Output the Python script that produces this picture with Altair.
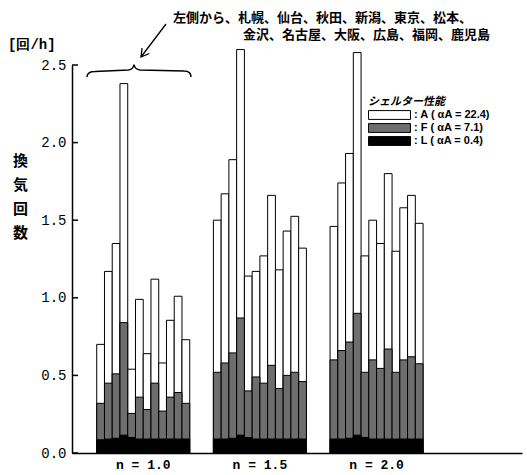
import altair as alt
import pandas as pd

cities = ["札幌", "仙台", "秋田", "新潟", "東京", "松本",
          "金沢", "名古屋", "大阪", "広島", "福岡", "鹿児島"]
groups = ["n = 1.0", "n = 1.5", "n = 2.0"]
series = [": A ( αA = 22.4)", ": F ( αA = 7.1)", ": L ( αA = 0.4)"]
series_colors = ["#ffffff", "#6e6e6e", "#000000"]
yticks = [0.0, 0.5, 1.0, 1.5, 2.0, 2.5]

# 換気回数 [回/h]  (A = total bar, F = stippled part, L = black part)
A_n10 = [0.70, 1.17, 1.35, 2.38, 0.54, 0.99, 0.64, 1.12, 0.58, 0.855, 1.01, 0.73]
F_n10 = [0.32, 0.45, 0.51, 0.84, 0.255, 0.36, 0.28, 0.45, 0.27, 0.36, 0.39, 0.32]
L_n10 = [0.085, 0.09, 0.095, 0.115, 0.10, 0.09, 0.09, 0.09, 0.09, 0.09, 0.09, 0.09]

A_n15 = [1.50, 1.67, 1.89, 2.60, 1.14, 1.17, 1.27, 1.66, 1.18, 1.43, 1.525, 1.32]
F_n15 = [0.52, 0.58, 0.645, 0.87, 0.40, 0.49, 0.45, 0.565, 0.415, 0.50, 0.52, 0.46]
L_n15 = [0.09, 0.09, 0.095, 0.115, 0.10, 0.09, 0.09, 0.09, 0.09, 0.09, 0.09, 0.09]

A_n20 = [1.46, 1.74, 1.93, 2.58, 1.27, 1.50, 1.35, 1.80, 1.30, 1.58, 1.66, 1.48]
F_n20 = [0.60, 0.66, 0.715, 0.90, 0.52, 0.60, 0.545, 0.67, 0.52, 0.60, 0.62, 0.575]
L_n20 = [0.09, 0.09, 0.095, 0.115, 0.10, 0.09, 0.09, 0.09, 0.09, 0.09, 0.09, 0.09]

note_line1 = "左側から、札幌、仙台、秋田、新潟、東京、松本、"
note_line2 = "金沢、名古屋、大阪、広島、福岡、鹿児島"
unit_label = "[回/h]"
y_title = ["換", "気", "回", "数"]
legend_title = "シェルター性能"

table = {
    "n = 1.0": [A_n10, F_n10, L_n10],
    "n = 1.5": [A_n15, F_n15, L_n15],
    "n = 2.0": [A_n20, F_n20, L_n20],
}
rows = []
for si, key in enumerate(["A", "F", "L"]):
    for g in groups:
        for ci, c in enumerate(cities):
            rows.append({"key": key, "series": series[si], "group": g,
                         "city": c, "value": table[g][si][ci]})
df = pd.DataFrame(rows)

xscale = alt.Scale(domain=groups, paddingInner=0.203, paddingOuter=0.53, align=0.2)
yscale = alt.Scale(domain=[0, 2.5], nice=False, zero=True)

xaxis = alt.Axis(title=None, ticks=False, domainColor="black", domainWidth=1.5,
                 labelAngle=0, labelFont="Liberation Mono", labelFontWeight="bold",
                 labelFontSize=13, labelColor="black", labelPadding=5)
yaxis = alt.Axis(values=yticks, format=".1f", ticks=False, grid=False,
                 domainColor="black", domainWidth=1.5,
                 labelFont="Liberation Mono", labelFontSize=14, labelColor="black",
                 labelPadding=6, title=y_title, titleAngle=0, titleX=-52, titleY=88,
                 titleBaseline="top", titleAlign="center",
                 titleFont="Noto Sans CJK JP", titleFontSize=15,
                 titleFontWeight="bold", titleLineHeight=24, titleColor="black")

legend = alt.Legend(orient="none", legendX=296, legendY=31, title=legend_title,
                    titleFont="Noto Sans CJK JP", titleFontSize=11,
                    titleFontWeight="bold", titleFontStyle="italic", titleColor="black",
                    titlePadding=2, clipHeight=12,
                    labelFont="Liberation Sans", labelFontSize=11,
                    labelFontWeight="bold", labelColor="black", labelOffset=3,
                    symbolType="M-1,-0.21L1,-0.21L1,0.21L-1,0.21Z", symbolSize=1764,
                    symbolStrokeColor="black", symbolStrokeWidth=1, symbolOpacity=1,
                    rowPadding=1, padding=0)

base = alt.Chart(df)


def bars(key):
    return base.transform_filter(alt.datum.key == key).mark_bar(
        stroke="black", strokeWidth=1, opacity=1
    ).encode(
        x=alt.X("group:N", scale=xscale, axis=xaxis, sort=groups),
        xOffset=alt.XOffset("city:N", sort=cities,
                            scale=alt.Scale(paddingInner=0, paddingOuter=0)),
        y=alt.Y("value:Q", scale=yscale, axis=yaxis),
        fill=alt.Fill("series:N", scale=alt.Scale(domain=series, range=series_colors),
                      legend=legend),
    )


ticks = alt.Chart(pd.DataFrame({"v": yticks})).mark_rule(
    color="black", strokeWidth=1.5
).encode(y=alt.Y("v:Q", scale=yscale), x=alt.value(0), x2=alt.value(6))


def label(text, x, y, size, align="left", font="Noto Sans CJK JP", weight="bold"):
    return alt.Chart(pd.DataFrame({"t": [text]})).mark_text(
        align=align, baseline="middle", fontSize=size, font=font,
        fontWeight=weight, color="black"
    ).encode(text="t:N", x=alt.value(x), y=alt.value(y))


note1 = label(note_line1, 101, -47, 13)
note2 = label(note_line2, 171, -30, 13)
unit = label(unit_label, -64, -20, 14, font="Liberation Mono")

brace_path = ("M-1,0.115 Q-1,0.01 -0.846,0.01 L-0.2,-0.02 Q-0.11,-0.03 -0.096,-0.125 "
              "Q-0.08,-0.03 0.02,-0.02 L0.865,0 Q1,0 1,0.115")
brace = alt.Chart(pd.DataFrame({"k": [0]})).mark_point(
    shape=brace_path, size=10816, filled=False, stroke="black", strokeWidth=1.5,
    opacity=1
).encode(x=alt.value(67), y=alt.value(6))

arrow_path = "M0.625,-0.825L-0.625,0.825M-0.21,0.65L-0.625,0.825L-0.57,0.38"
arrow = alt.Chart(pd.DataFrame({"k": [0]})).mark_point(
    shape=arrow_path, size=1600, filled=False, stroke="black", strokeWidth=1.3,
    opacity=1
).encode(x=alt.value(81.5), y=alt.value(-24.5))

chart = alt.layer(
    bars("A"), bars("F"), bars("L"), ticks, note1, note2, unit, brace, arrow
).properties(
    width=450, height=388,
    autosize=alt.AutoSizeParams(type="none"),
    padding={"left": 72, "top": 65, "right": 5, "bottom": 22},
    background="white",
).configure_view(stroke=None)

chart.save("out.html", embed_options={"renderer": "svg", "actions": False})
